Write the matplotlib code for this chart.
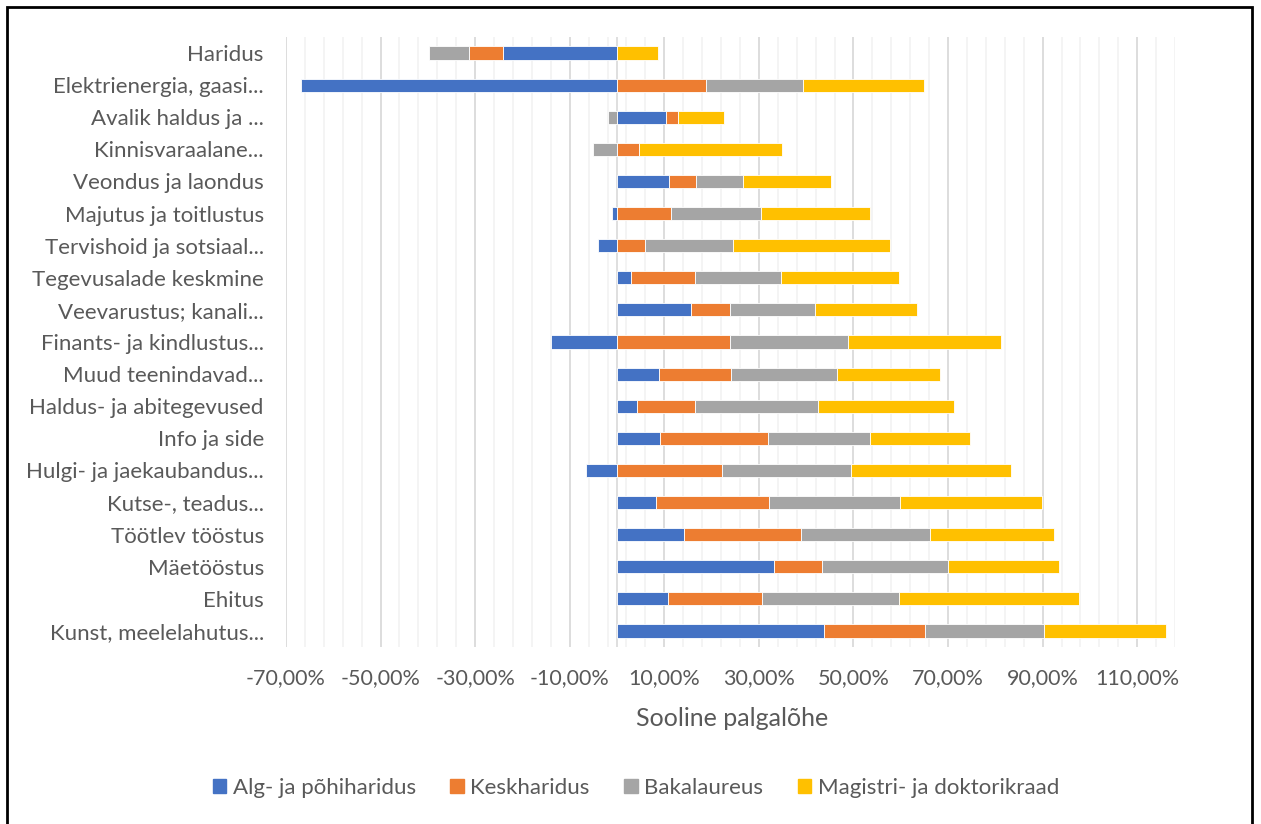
import matplotlib.pyplot as plt
import matplotlib.patches as mpatches
import numpy as np

plt.rcParams['font.family'] = ['Lato', 'DejaVu Sans']

# categories, top to bottom
categories = [
    "Haridus", "Elektrienergia, gaasi...", "Avalik haldus ja ...", "Kinnisvaraalane...",
    "Veondus ja laondus", "Majutus ja toitlustus", "Tervishoid ja sotsiaal...",
    "Tegevusalade keskmine", "Veevarustus; kanali...", "Finants- ja kindlustus...",
    "Muud teenindavad...", "Haldus- ja abitegevused", "Info ja side",
    "Hulgi- ja jaekaubandus...", "Kutse-, teadus...", "Töötlev tööstus",
    "Mäetööstus", "Ehitus", "Kunst, meelelahutus...",
]

# gender pay gap in %, by education level
alg_pohi = [-24.2, -66.8, 10.3, 0.0, 11.0, -1.0, -4.1, 2.9, 15.6, -14.0,
            8.8, 4.2, 9.0, -6.5, 8.3, 14.1, 33.3, 10.8, 43.7]
kesk = [-7.2, 18.8, 2.7, 4.7, 5.6, 11.5, 5.9, 13.6, 8.3, 23.8,
        15.4, 12.3, 23.0, 22.3, 23.9, 24.8, 10.0, 19.8, 21.5]
bakalaureus = [-8.4, 20.5, -1.9, -5.1, 10.1, 18.9, 18.7, 18.2, 18.0, 25.1,
               22.3, 25.9, 21.5, 27.1, 27.7, 27.3, 26.8, 29.1, 25.0]
magister = [8.6, 25.7, 9.7, 30.2, 18.5, 23.2, 33.2, 25.0, 21.6, 32.3,
            21.9, 28.9, 21.1, 34.0, 29.9, 26.2, 23.4, 38.1, 26.0]

series_names = ["Alg- ja põhiharidus", "Keskharidus", "Bakalaureus", "Magistri- ja doktorikraad"]
series_colors = ["#4472C4", "#ED7D31", "#A5A5A5", "#FFC000"]
TEXT = "#595959"

fig = plt.figure(figsize=(12.61, 8.24), dpi=100)
ax = fig.add_axes([286 / 1261, 1 - 647 / 824, (1175 - 286) / 1261, (647 - 37) / 824])

y = np.arange(len(categories))
pos_base = np.zeros(len(categories))
neg_base = np.zeros(len(categories))
for vals, name, col in zip([alg_pohi, kesk, bakalaureus, magister], series_names, series_colors):
    vals = np.array(vals)
    left = np.where(vals >= 0, pos_base, neg_base)
    ax.barh(y, vals, left=left, height=0.41, color=col, edgecolor="white",
            linewidth=0.6, label=name, zorder=3)
    pos_base += np.where(vals >= 0, vals, 0)
    neg_base += np.where(vals < 0, vals, 0)

ax.set_xlim(-70, 118)
ax.set_ylim(len(categories) - 0.5, -0.5)

# gridlines
for v in np.arange(-70, 119, 4):
    ax.axvline(v, color="#F2F2F2", lw=1.2, zorder=0)
for v in np.arange(-70, 119, 20):
    ax.axvline(v, color="#D9D9D9", lw=1.2, zorder=1)
ax.axvline(0, color="#D9D9D9", lw=1.2, zorder=1)

ax.set_xticks(np.arange(-70, 111, 20))
ax.set_xticklabels([f"{v:.2f}%".replace(".", ",") for v in np.arange(-70, 111, 20)])
ax.set_yticks(y)
ax.set_yticklabels(categories)
ax.tick_params(axis="both", length=0, colors=TEXT)
ax.tick_params(axis="y", pad=16, labelsize=16)
ax.tick_params(axis="x", pad=15, labelsize=15.5)
for s in ax.spines.values():
    s.set_visible(False)

fig.text(732 / 1261, 1 - 718 / 824, "Sooline palgalõhe", ha="center", va="center",
         fontsize=18, color=TEXT)

handles = [mpatches.Patch(color=c, label=n) for c, n in zip(series_colors, series_names)]
leg = fig.legend(handles=handles, loc="center", bbox_to_anchor=(636 / 1261, 1 - 788 / 824),
                 ncol=4, frameon=False, fontsize=16, handlelength=0.6, handleheight=0.6,
                 handletextpad=0.3, columnspacing=1.55)
for t in leg.get_texts():
    t.set_color(TEXT)

# chart border
fig.patches.append(mpatches.Rectangle((7 / 1261, -0.05), (1252 - 7) / 1261, 1.05 - 7 / 824,
                                      transform=fig.transFigure, fill=False,
                                      edgecolor="black", lw=2))

fig.savefig("out.png", dpi=100)
